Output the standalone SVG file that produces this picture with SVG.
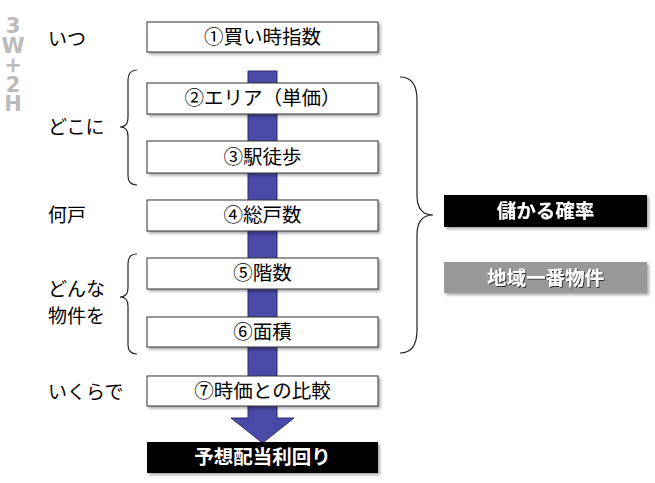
<svg xmlns="http://www.w3.org/2000/svg" width="655" height="483" viewBox="0 0 655 483">
<style>
text{font-family:"Liberation Sans","Noto Sans CJK JP",sans-serif}
.box{fill:#fff;stroke:#333;stroke-width:1}
.bt{font-size:19.5px;text-anchor:middle;fill:#000}
.lab{font-size:19px;fill:#000}
.wt{font-size:19.5px;font-weight:bold;text-anchor:middle;fill:#fff}
.br{fill:none;stroke:#222;stroke-width:1.2}
.hw{font-family:"DejaVu Sans",sans-serif;font-size:21px;font-weight:bold;fill:#bbb;writing-mode:vertical-rl;text-orientation:upright;letter-spacing:-4.5px}
</style>
<defs>
<filter id="sh" x="-10%" y="-20%" width="120%" height="160%">
<feDropShadow dx="2" dy="2" stdDeviation="1.5" flood-color="#000" flood-opacity="0.35"/>
</filter>
<filter id="ts" x="-10%" y="-20%" width="120%" height="160%">
<feDropShadow dx="1" dy="1" stdDeviation="0.6" flood-color="#000" flood-opacity="0.7"/>
</filter>
</defs>
<g id="hw">
<text class="hw" x="13" y="14">3W+2H</text>
</g>
<g id="connectors">
<path d="M248,71 H277 V418 H294 L262.5,443 L231,418 H248 Z" fill="#4a4aa8" stroke="#2a2a70" stroke-width="1"/>
<path class="br" d="M137,70 Q128,70 128,80 V118 Q128,127 120,127 Q128,127 128,136 V176 Q128,185 137,185"/>
<path class="br" d="M137,254 Q128,254 128,264 V288 Q128,297 120,297 Q128,297 128,306 V345 Q128,354 137,354"/>
<path class="br" d="M400,77 Q417,77 417,100 V195 Q417,215 433,215 Q417,215 417,235 V330 Q417,353 400,353"/>
</g>
<g id="labels">
<text class="lab" x="48" y="46">いつ</text>
<text class="lab" x="48" y="134">どこに</text>
<text class="lab" x="48" y="222">何戸</text>
<text class="lab" x="48" y="296">どんな</text>
<text class="lab" x="48" y="323">物件を</text>
<text class="lab" x="48" y="399">いくらで</text>
</g>
<g id="n1"><rect class="box" x="147" y="22" width="231" height="30" filter="url(#sh)"/><text class="bt" x="262.5" y="44">①買い時指数</text></g>
<g id="n2"><rect class="box" x="147" y="83" width="231" height="31" filter="url(#sh)"/><text class="bt" x="262.5" y="105">②エリア（単価）</text></g>
<g id="n3"><rect class="box" x="147" y="141" width="231" height="32" filter="url(#sh)"/><text class="bt" x="262.5" y="164">③駅徒歩</text></g>
<g id="n4"><rect class="box" x="147" y="200" width="231" height="31" filter="url(#sh)"/><text class="bt" x="262.5" y="222">④総戸数</text></g>
<g id="n5"><rect class="box" x="147" y="258" width="231" height="31" filter="url(#sh)"/><text class="bt" x="262.5" y="280">⑤階数</text></g>
<g id="n6"><rect class="box" x="147" y="317" width="231" height="30" filter="url(#sh)"/><text class="bt" x="262.5" y="339">⑥面積</text></g>
<g id="n7"><rect class="box" x="147" y="376" width="231" height="30" filter="url(#sh)"/><text class="bt" x="262.5" y="398">⑦時価との比較</text></g>
<g id="n8"><rect x="147" y="442" width="231" height="31" fill="#000" filter="url(#sh)"/><text class="wt" x="262.5" y="464">予想配当利回り</text></g>
<g id="n9"><rect x="444" y="195" width="203" height="32" fill="#000" filter="url(#sh)"/><text class="wt" x="545.5" y="218" filter="url(#ts)">儲かる確率</text></g>
<g id="n10"><rect x="444" y="262" width="203" height="31" fill="#999" filter="url(#sh)"/><text class="wt" x="545.5" y="284.5" filter="url(#ts)">地域一番物件</text></g>
</svg>
